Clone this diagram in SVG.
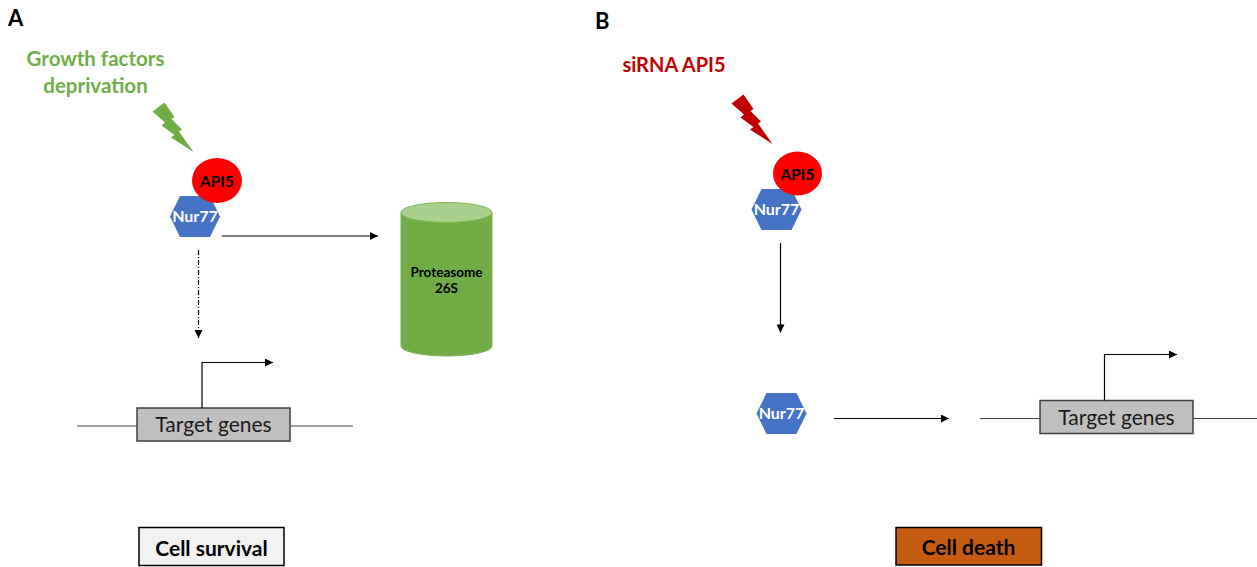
<svg xmlns="http://www.w3.org/2000/svg" width="1257" height="567" viewBox="0 0 1257 567">
  <style>
    text { font-family: Lato, "Open Sans", "Liberation Sans", sans-serif; }
    .panel { font-size: 22px; font-weight: 700; fill: #000; }
    .nur { fill: #4472C4; }
    .nurtxt { font-size: 16px; font-weight: 700; fill: #fff; text-anchor: middle; }
    .api { fill: #FF0000; }
    .apitxt { font-size: 15.5px; font-weight: 700; fill: #000; text-anchor: middle; }
    .gene { fill: #BFBFBF; stroke: #404040; stroke-width: 1.5; }
    .genetxt { font-size: 21px; fill: #1a1a1a; text-anchor: middle; }
    .dna { stroke: #404040; stroke-width: 1.2; fill: none; }
    .arrow { stroke: #000; stroke-width: 1.2; fill: none; marker-end: url(#head); }
    .outcome { stroke: #000; stroke-width: 1.5; }
    .outtxt { font-size: 21px; font-weight: 700; fill: #000; text-anchor: middle; }
  </style>
  <defs>
    <marker id="head" viewBox="0 0 10 10" refX="10" refY="5" markerWidth="9" markerHeight="8" markerUnits="userSpaceOnUse" orient="auto">
      <path d="M0,0 L10,5 L0,10 Z" fill="#000"/>
    </marker>
    <polygon id="bolt" points="164.5,102.5 174.5,117 171.5,119 182,129.5 179,131.5 193.5,152 171,137.5 174.5,135 161.5,125.5 165,122.5 152.5,111.5"/>
    <polygon id="hex" points="-25,0 -15,-20.5 15,-20.5 25,0 15,20.5 -15,20.5"/>
  </defs>

  <!-- panel letters -->
  <text class="panel" x="8" y="26">A</text>
  <text class="panel" x="595" y="29">B</text>

  <!-- panel A: growth factor deprivation -->
  <g id="stimulus-a">
    <text x="95.5" y="66" font-size="20.5" font-weight="700" fill="#70AD47" text-anchor="middle">Growth factors</text>
    <text x="95.5" y="93" font-size="20.5" font-weight="700" fill="#70AD47" text-anchor="middle">deprivation</text>
    <use href="#bolt" fill="#70AD47"/>
  </g>

  <g id="nur77-a">
    <use href="#hex" class="nur" x="195" y="216.5"/>
    <text class="nurtxt" x="195" y="222">Nur77</text>
  </g>
  <g id="api5-a">
    <ellipse class="api" cx="217" cy="180.5" rx="25" ry="22.5"/>
    <text class="apitxt" x="217" y="186.5">API5</text>
  </g>

  <g id="proteasome">
    <path d="M401,212.5 V346 A45.5,10 0 0 0 492,346 V212.5 Z" fill="#70AD47" stroke="#7CB553" stroke-width="1"/>
    <ellipse cx="446.5" cy="212.5" rx="45.5" ry="10" fill="#A9D18E" stroke="#7CB553" stroke-width="1"/>
    <text x="446.5" y="277" font-size="13.5" font-weight="700" fill="#000" text-anchor="middle">Proteasome</text>
    <text x="446.5" y="293" font-size="13.5" font-weight="700" fill="#000" text-anchor="middle">26S</text>
  </g>

  <g id="gene-a">
    <line class="dna" x1="77" y1="426" x2="137" y2="426"/>
    <line class="dna" x1="290" y1="426" x2="353" y2="426"/>
    <rect class="gene" x="137" y="408" width="153" height="33"/>
    <text class="genetxt" x="213.5" y="432">Target genes</text>
  </g>

  <g id="outcome-a">
    <rect class="outcome" x="139" y="527.5" width="145" height="38" fill="#F2F2F2"/>
    <text class="outtxt" x="211.5" y="555.5">Cell survival</text>
  </g>

  <!-- panel B: API5 knockdown -->
  <g id="stimulus-b">
    <text x="674" y="72" font-size="20" font-weight="700" fill="#C00000" text-anchor="middle">siRNA API5</text>
    <use href="#bolt" fill="#C00000" transform="translate(579,-8)"/>
  </g>

  <g id="nur77-b">
    <use href="#hex" class="nur" x="776.5" y="209.5"/>
    <text class="nurtxt" x="776.5" y="215">Nur77</text>
  </g>
  <g id="api5-b">
    <ellipse class="api" cx="797.5" cy="173.5" rx="24.5" ry="22"/>
    <text class="apitxt" x="797.5" y="179.5">API5</text>
  </g>

  <g id="nur77-free">
    <use href="#hex" class="nur" x="781.5" y="413.5"/>
    <text class="nurtxt" x="781.5" y="419">Nur77</text>
  </g>

  <g id="gene-b">
    <line class="dna" x1="980" y1="418.5" x2="1040" y2="418.5"/>
    <line class="dna" x1="1193" y1="418.5" x2="1257" y2="418.5"/>
    <rect class="gene" x="1040" y="400.5" width="153" height="33"/>
    <text class="genetxt" x="1116.5" y="425">Target genes</text>
  </g>

  <g id="outcome-b">
    <rect class="outcome" x="896" y="527.5" width="145.5" height="37.5" fill="#C55A11"/>
    <text class="outtxt" x="968.5" y="554.5">Cell death</text>
  </g>

  <!-- connectors -->
  <g id="connectors">
    <line class="arrow" x1="222" y1="236" x2="378" y2="236"/>
    <line class="arrow" x1="198.5" y1="250" x2="198.5" y2="338" stroke="#333" stroke-dasharray="5 2 1 2"/>
    <path class="arrow" d="M202,408 V362.5 H273"/>
    <line class="arrow" x1="780.5" y1="243" x2="780.5" y2="332.5"/>
    <line class="arrow" x1="834" y1="418.5" x2="949" y2="418.5"/>
    <path class="arrow" d="M1104.5,400.5 V354.5 H1177"/>
  </g>
</svg>
